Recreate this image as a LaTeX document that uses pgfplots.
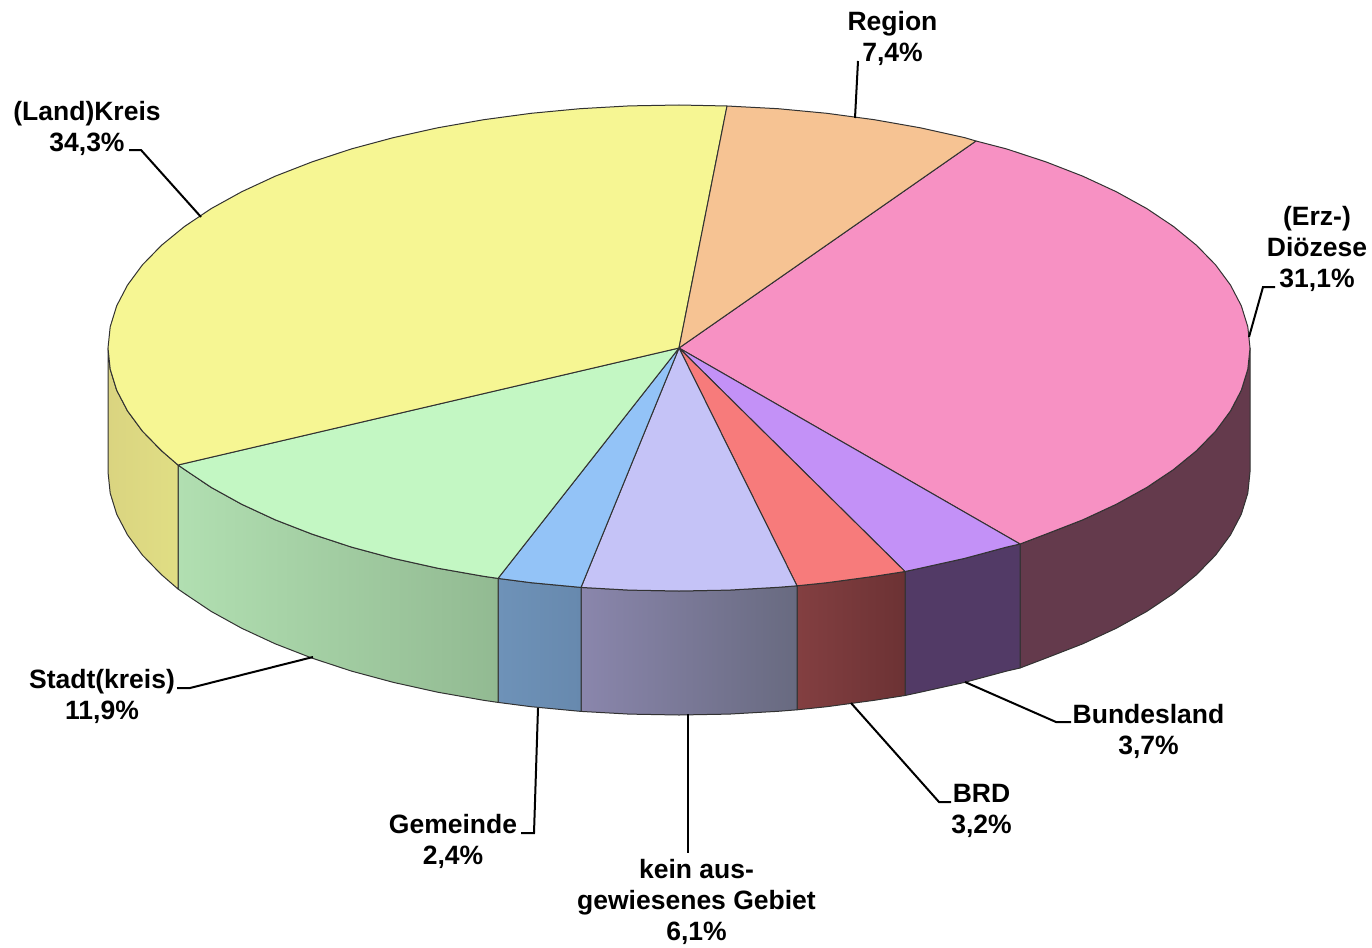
\documentclass[border=0pt]{standalone}
\usepackage{fontspec}
\setmainfont{Liberation Sans}
\usepackage{pgfplots}
\pgfplotsset{compat=1.18}
\definecolor{lineg}{RGB}{50,50,50}
\tikzset{
  slice/.style={draw=lineg, line width=1pt, line join=round},
  leader/.style={draw=black, line width=2pt, line join=miter},
  lab/.style={font=\fontsize{26.5}{31}\selectfont\bfseries, align=center, anchor=center, inner sep=0pt},
}
\begin{document}
\begin{tikzpicture}
\begin{axis}[
  scale only axis, width=1372pt, height=947pt,
  xmin=0, xmax=1372, ymin=0, ymax=947, y dir=reverse,
  hide axis, clip=false, no markers,
]
% keeps the page as large as the reference
\addplot[draw=none] coordinates {(0,0)(1372,947)};
% side walls
\addplot[slice, fill={rgb,255:red,100;green,58;blue,76}] coordinates {
(1250,348)(1247.8,369.2)(1241.3,390.2)(1230.5,410.9)(1215.6,431.1)(1196.5,450.7)(1173.5,469.5)(1146.8,487.4)(1116.4,504.2)(1082.8,519.8)(1046,534.1)(1020,544)
(1020,668)(1046,658.1)(1082.8,643.8)(1116.4,628.2)(1146.8,611.4)(1173.5,593.5)(1196.5,574.7)(1215.6,555.1)(1230.5,534.9)(1241.3,514.2)(1247.8,493.2)(1250,472)} --cycle;
\addplot[slice, fill={rgb,255:red,82;green,58;blue,102}] coordinates {
(1020,544)(1006.5,547.1)(964.5,558.4)(920.3,568.2)(905,571.5)
(905,695.5)(920.3,692.2)(964.5,682.4)(1006.5,671.1)(1020,668)} --cycle;
\addplot[slice, left color={rgb,255:red,131;green,63;blue,65}, right color={rgb,255:red,108;green,50;blue,52}] coordinates {
(905,571.5)(874.3,576.3)(826.8,582.7)(797,585.8)
(797,709.8)(826.8,706.7)(874.3,700.3)(905,695.5)} --cycle;
\addplot[slice, left color={rgb,255:red,138;green,134;blue,172}, right color={rgb,255:red,104;green,106;blue,128}] coordinates {
(797,585.8)(778.1,587.3)(728.8,590.1)(679,591)(629.2,590.1)(581,587.4)
(581,711.4)(629.2,714.1)(679,715)(728.8,714.1)(778.1,711.3)(797,709.8)} --cycle;
\addplot[slice, left color={rgb,255:red,110;green,146;blue,184}, right color={rgb,255:red,103;green,137;blue,174}] coordinates {
(581,587.4)(531.2,582.7)(498,578.4)
(498,702.4)(531.2,706.7)(581,711.4)} --cycle;
\addplot[slice, left color={rgb,255:red,177;green,223;blue,177}, right color={rgb,255:red,146;green,186;blue,146}] coordinates {
(498,578.4)(483.7,576.3)(437.7,568.2)(393.5,558.4)(351.5,547.1)(312,534.1)(275.2,519.8)(241.6,504.2)(211.2,487.4)(184.5,469.5)(178,465)
(178,589)(184.5,593.5)(211.2,611.4)(241.6,628.2)(275.2,643.8)(312,658.1)(351.5,671.1)(393.5,682.4)(437.7,692.2)(483.7,700.3)(498,702.4)} --cycle;
\addplot[slice, left color={rgb,255:red,218;green,212;blue,128}, right color={rgb,255:red,224;green,222;blue,132}] coordinates {
(178,465)(161.5,450.7)(142.4,431.1)(127.5,410.9)(116.7,390.2)(110.2,369.2)(108,348)
(108,472)(110.2,493.2)(116.7,514.2)(127.5,534.9)(142.4,555.1)(161.5,574.7)(178,589)} --cycle;
% top slices
\addplot[slice, fill={rgb,255:red,247;green,145;blue,195}] coordinates {
(679,348)(976,141)(1006.5,148.9)(1046,161.9)(1082.8,176.2)(1116.4,191.8)(1146.8,208.6)(1173.5,226.5)(1196.5,245.3)(1215.6,264.9)(1230.5,285.1)(1241.3,305.8)(1247.8,326.8)(1250,348)(1247.8,369.2)(1241.3,390.2)(1230.5,410.9)(1215.6,431.1)(1196.5,450.7)(1173.5,469.5)(1146.8,487.4)(1116.4,504.2)(1082.8,519.8)(1046,534.1)(1020,544)} --cycle;
\addplot[slice, fill={rgb,255:red,195;green,145;blue,247}] coordinates {
(679,348)(1020,544)(1006.5,547.1)(964.5,558.4)(920.3,568.2)(905,571.5)} --cycle;
\addplot[slice, fill={rgb,255:red,247;green,123;blue,123}] coordinates {
(679,348)(905,571.5)(874.3,576.3)(826.8,582.7)(797,585.8)} --cycle;
\addplot[slice, fill={rgb,255:red,197;green,195;blue,247}] coordinates {
(679,348)(797,585.8)(778.1,587.3)(728.8,590.1)(679,591)(629.2,590.1)(581,587.4)} --cycle;
\addplot[slice, fill={rgb,255:red,147;green,195;blue,247}] coordinates {
(679,348)(581,587.4)(531.2,582.7)(498,578.4)} --cycle;
\addplot[slice, fill={rgb,255:red,195;green,247;blue,195}] coordinates {
(679,348)(498,578.4)(483.7,576.3)(437.7,568.2)(393.5,558.4)(351.5,547.1)(312,534.1)(275.2,519.8)(241.6,504.2)(211.2,487.4)(184.5,469.5)(178,465)} --cycle;
\addplot[slice, fill={rgb,255:red,246;green,246;blue,147}] coordinates {
(679,348)(178,465)(161.5,450.7)(142.4,431.1)(127.5,410.9)(116.7,390.2)(110.2,369.2)(108,348)(110.2,326.8)(116.7,305.8)(127.5,285.1)(142.4,264.9)(161.5,245.3)(184.5,226.5)(211.2,208.6)(241.6,191.8)(275.2,176.2)(312,161.9)(351.5,148.9)(393.5,137.6)(437.7,127.8)(483.7,119.7)(531.2,113.3)(579.9,108.7)(629.2,105.9)(679,105)(727,106)} --cycle;
\addplot[slice, fill={rgb,255:red,246;green,195;blue,147}] coordinates {
(679,348)(727,106)(778.1,108.7)(826.8,113.3)(874.3,119.7)(920.3,127.8)(964.5,137.6)(976,141)} --cycle;
% leader lines
\addplot[leader] coordinates {(855,118)(858,61)};
\addplot[leader] coordinates {(201,217)(141,150)(129,150)};
\addplot[leader] coordinates {(1249,337)(1263,287)(1275,287)};
\addplot[leader] coordinates {(965,682)(1056,722)(1071,722)};
\addplot[leader] coordinates {(851,703)(939,802)(951,802)};
\addplot[leader] coordinates {(688,714)(688,853)};
\addplot[leader] coordinates {(538,708)(534,833)(521,833)};
\addplot[leader] coordinates {(313,657)(190,688)(177,688)};
% labels
\node[lab] at (axis cs:892.5,38) {Region\\7,4\%};
\node[lab] at (axis cs:87,128) {(Land)Kreis\\34,3\%};
\node[lab] at (axis cs:1317,249) {(Erz-)\\Diözese\\31,1\%};
\node[lab] at (axis cs:1148.5,731) {Bundesland\\3,7\%};
\node[lab] at (axis cs:981.5,810.5) {BRD\\3,2\%};
\node[lab] at (axis cs:696.5,902) {kein aus-\\gewiesenes Gebiet\\6,1\%};
\node[lab] at (axis cs:453,841) {Gemeinde\\2,4\%};
\node[lab] at (axis cs:102,696) {Stadt(kreis)\\11,9\%};
\end{axis}
\end{tikzpicture}
\end{document}
